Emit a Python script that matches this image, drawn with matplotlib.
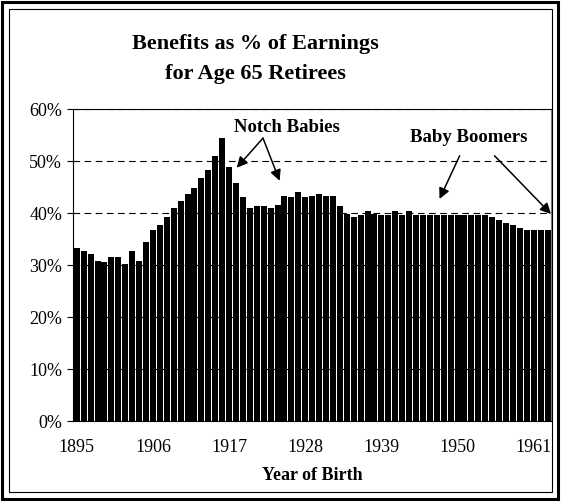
import matplotlib
matplotlib.use("Agg")
import matplotlib.pyplot as plt
from matplotlib.patches import Rectangle

# Year of birth 1895..1963, benefit as % of earnings
years = list(range(1895, 1964))
benefit_pct = [
    33.3, 32.6, 32.2, 30.8, 30.5, 31.5, 31.5, 30.1, 32.6, 30.8,
    34.4, 36.7, 37.7, 39.2, 41.0, 42.4, 43.7, 44.8, 46.8, 48.3,
    51.0, 54.5, 48.9, 45.8, 43.1, 40.9, 41.3, 41.3, 41.0, 41.6,
    43.3, 43.1, 44.1, 43.1, 43.3, 43.7, 43.3, 43.3, 41.3, 39.9,
    39.2, 39.6, 40.3, 39.9, 39.6, 39.6, 40.3, 39.6, 40.3, 39.6,
    39.6, 39.6, 39.6, 39.6, 39.6, 39.6, 39.6, 39.6, 39.6, 39.6,
    39.2, 38.7, 38.1, 37.7, 37.2, 36.8, 36.8, 36.8, 36.8,
]
tick_years = [1895, 1906, 1917, 1928, 1939, 1950, 1961]
y_ticks = [0, 10, 20, 30, 40, 50, 60]

plt.rcParams['font.family'] = ['Liberation Serif', 'DejaVu Serif']

W, H = 561, 502
fig = plt.figure(figsize=(W / 100, H / 100), dpi=100)
fig.patch.set_facecolor("white")

ax = fig.add_axes([73.3 / W, 1 - 422 / H, (551 - 73.3) / W, (422 - 110) / H])
x = list(range(len(years)))
ax.bar(x, benefit_pct, width=0.86, color="black", zorder=2)

ax.set_xlim(-0.5, len(years) - 0.5)
ax.set_ylim(0, 60)
ax.set_yticks(y_ticks)
ax.set_yticklabels([f"{v}%" for v in y_ticks])
ax.set_xticks([years.index(t) for t in tick_years])
ax.set_xticklabels([str(t) for t in tick_years])
ax.tick_params(axis="x", length=0, pad=12, labelsize=13)
ax.tick_params(axis="y", length=4, width=0.8, pad=4, labelsize=13, direction="out")
ax.yaxis.grid(True, linestyle=(0, (6, 4)), color="black", linewidth=0.8, zorder=1)
ax.set_axisbelow(True)
for s in ax.spines.values():
    s.set_linewidth(0.8)
    s.set_color("black")
ax.spines["right"].set_color("#808080")

ax.set_xlabel("Year of Birth", fontsize=13, fontweight="bold", labelpad=8)

# annotations
bold = dict(fontsize=13.5, fontweight="bold", ha="center", va="center")
ax.text(30.3, 56.7, "Notch Babies", **bold)
ax.text(56.6, 54.8, "Baby Boomers", **bold)
arrow = dict(arrowstyle="-|>", color="black", lw=1.1, mutation_scale=16,
             shrinkA=0, shrinkB=0)
ax.annotate("", xy=(23.1, 48.7), xytext=(26.9, 54.4), arrowprops=arrow)
ax.annotate("", xy=(29.3, 46.2), xytext=(26.9, 54.4), arrowprops=arrow)
ax.annotate("", xy=(52.4, 42.7), xytext=(55.3, 51.0), arrowprops=arrow)
ax.annotate("", xy=(68.5, 39.8), xytext=(60.35, 51.0), arrowprops=arrow,
            annotation_clip=False)

# title
fig.text(255 / W, 1 - 44 / H, "Benefits as % of Earnings", fontsize=16,
         fontweight="bold", ha="center", va="center")
fig.text(255 / W, 1 - 74 / H, "for Age 65 Retirees", fontsize=16,
         fontweight="bold", ha="center", va="center")

# double frame around the chart
fig.patches.append(Rectangle((2 / W, 2 / H), (W - 5) / W, (H - 5) / H,
                             transform=fig.transFigure, fill=False,
                             edgecolor="black", linewidth=2.2))
fig.patches.append(Rectangle((9 / W, 9 / H), (W - 18) / W, (H - 19) / H,
                             transform=fig.transFigure, fill=False,
                             edgecolor="black", linewidth=0.8))

fig.savefig("out.png", dpi=100)
